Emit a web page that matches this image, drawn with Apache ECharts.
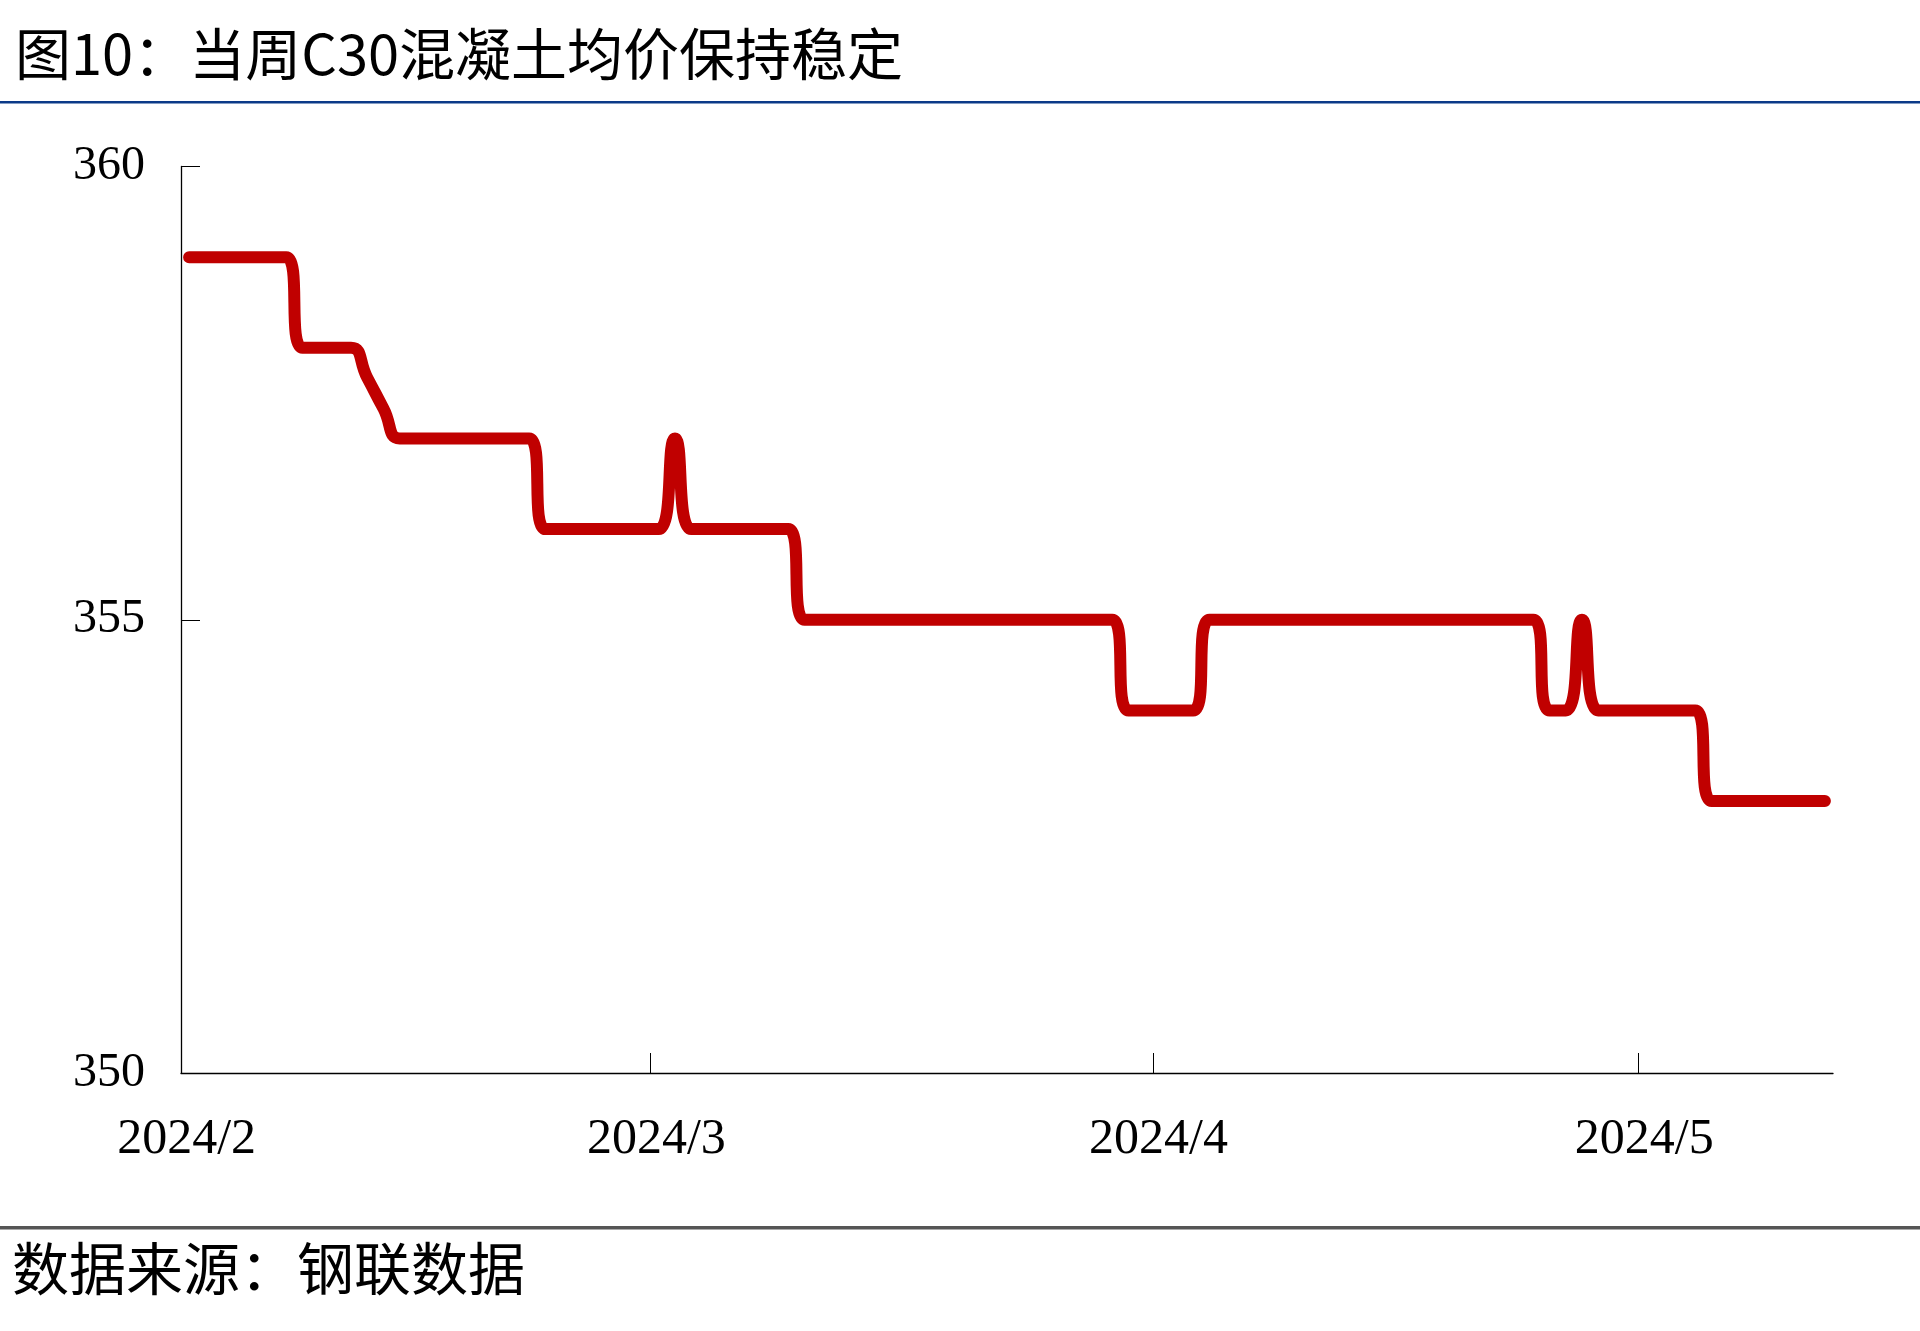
<!DOCTYPE html>
<html>
<head>
<meta charset="utf-8">
<script src="https://cdn.jsdelivr.net/npm/echarts@6/dist/echarts.min.js"></script>
<style>
html,body{margin:0;padding:0;background:#fff;}
#chart{width:1920px;height:1331px;}
</style>
</head>
<body>
<div id="chart"></div>
<script>
// ---- data (daily C30 concrete average price) ----
var dates = [
 '2024-02-01','2024-02-02','2024-02-03','2024-02-04','2024-02-05','2024-02-06','2024-02-07','2024-02-08','2024-02-09','2024-02-10',
 '2024-02-11','2024-02-12','2024-02-13','2024-02-14','2024-02-15','2024-02-16','2024-02-17','2024-02-18','2024-02-19','2024-02-20',
 '2024-02-21','2024-02-22','2024-02-23','2024-02-24','2024-02-25','2024-02-26','2024-02-27','2024-02-28','2024-02-29',
 '2024-03-01','2024-03-02','2024-03-03','2024-03-04','2024-03-05','2024-03-06','2024-03-07','2024-03-08','2024-03-09','2024-03-10',
 '2024-03-11','2024-03-12','2024-03-13','2024-03-14','2024-03-15','2024-03-16','2024-03-17','2024-03-18','2024-03-19','2024-03-20',
 '2024-03-21','2024-03-22','2024-03-23','2024-03-24','2024-03-25','2024-03-26','2024-03-27','2024-03-28','2024-03-29','2024-03-30','2024-03-31',
 '2024-04-01','2024-04-02','2024-04-03','2024-04-04','2024-04-05','2024-04-06','2024-04-07','2024-04-08','2024-04-09','2024-04-10',
 '2024-04-11','2024-04-12','2024-04-13','2024-04-14','2024-04-15','2024-04-16','2024-04-17','2024-04-18','2024-04-19','2024-04-20',
 '2024-04-21','2024-04-22','2024-04-23','2024-04-24','2024-04-25','2024-04-26','2024-04-27','2024-04-28','2024-04-29','2024-04-30',
 '2024-05-01','2024-05-02','2024-05-03','2024-05-04','2024-05-05','2024-05-06','2024-05-07','2024-05-08','2024-05-09','2024-05-10',
 '2024-05-11','2024-05-12'
];
var prices = [
 359,359,359,359,359,359,359,358,358,358,
 358,357.67,357.33,357,357,357,357,357,357,357,
 357,357,356,356,356,356,356,356,356,
 356,357,356,356,356,356,356,356,356,355,
 355,355,355,355,355,355,355,355,355,355,
 355,355,355,355,355,355,355,355,355,354,354,
 354,354,354,355,355,355,355,355,355,355,
 355,355,355,355,355,355,355,355,355,355,
 355,355,355,355,354,354,355,354,354,354,
 354,354,354,354,353,353,353,353,353,353,
 353,353
];
var tickDates = ['2024-03-01','2024-04-01','2024-05-01'];
var labelDates = ['2024-02-01','2024-03-01','2024-04-01','2024-05-01'];
var tickLabels = ['2024/2','2024/3','2024/4','2024/5'];
var yTicks = [350, 355, 360];
var axisStart = '2024-02-01';
var axisEnd = '2024-05-13';

// ---- helpers ----
var DAY = 86400000;
function dayOf(s){ return (Date.parse(s) - Date.parse(axisStart)) / DAY; }
var seriesData = dates.map(function(d, i){ return [dayOf(d) + 0.5, prices[i]]; });
var labelPos = labelDates.map(function(d){ return dayOf(d) + 0.35; });

var chart = echarts.init(document.getElementById('chart'), null, {renderer:'canvas'});
var serif = '"Liberation Serif","Times New Roman",serif';
var cjk = '"Noto Sans CJK SC","Noto Sans",sans-serif';

chart.setOption({
  animation: false,
  backgroundColor: '#ffffff',
  grid: {left: 181, right: 87, top: 166.5, bottom: 258, containLabel: false},
  xAxis: {
    type: 'value',
    min: 0,
    max: dayOf(axisEnd),
    splitLine: {show: false},
    axisLine: {show: true, lineStyle: {color: '#000', width: 1.3}},
    axisTick: {show: true, inside: true, length: 20, customValues: tickDates.map(dayOf),
               lineStyle: {color: '#000', width: 1}},
    axisLabel: {
      show: true, customValues: labelPos, margin: 42,
      fontFamily: serif, fontSize: 50, color: '#000',
      formatter: function(v){
        for (var i = 0; i < labelPos.length; i++) {
          if (Math.abs(labelPos[i] - v) < 0.01) return tickLabels[i];
        }
        return '';
      }
    }
  },
  yAxis: {
    type: 'value',
    min: yTicks[0],
    max: yTicks[yTicks.length - 1],
    interval: 5,
    splitLine: {show: false},
    axisLine: {show: true, lineStyle: {color: '#000', width: 1.3}},
    axisTick: {show: true, inside: true, length: 19, lineStyle: {color: '#000', width: 1}},
    axisLabel: {margin: 36, fontFamily: serif, fontSize: 48, color: '#000',
                padding: [8, 0, 0, 0]}
  },
  series: [{
    type: 'line',
    data: seriesData,
    smooth: 0.55,
    showSymbol: false,
    symbol: 'none',
    lineStyle: {color: '#C00000', width: 12, cap: 'round', join: 'round'},
    itemStyle: {color: '#C00000'}
  }],
  graphic: [
    {type: 'text', left: 15, top: 26,
     style: {text: '图10：当周C30混凝土均价保持稳定', font: 'normal 56px ' + cjk, fill: '#000'}},
    {type: 'rect', shape: {x: 0, y: 101, width: 1920, height: 2.5}, style: {fill: '#0B3A88'}},
    {type: 'rect', shape: {x: 0, y: 1226, width: 1920, height: 3.5}, style: {fill: '#555555'}},
    {type: 'text', left: 12, top: 1240,
     style: {text: '数据来源：钢联数据', font: 'normal 57px ' + cjk, fill: '#000'}}
  ]
});
</script>
</body>
</html>
